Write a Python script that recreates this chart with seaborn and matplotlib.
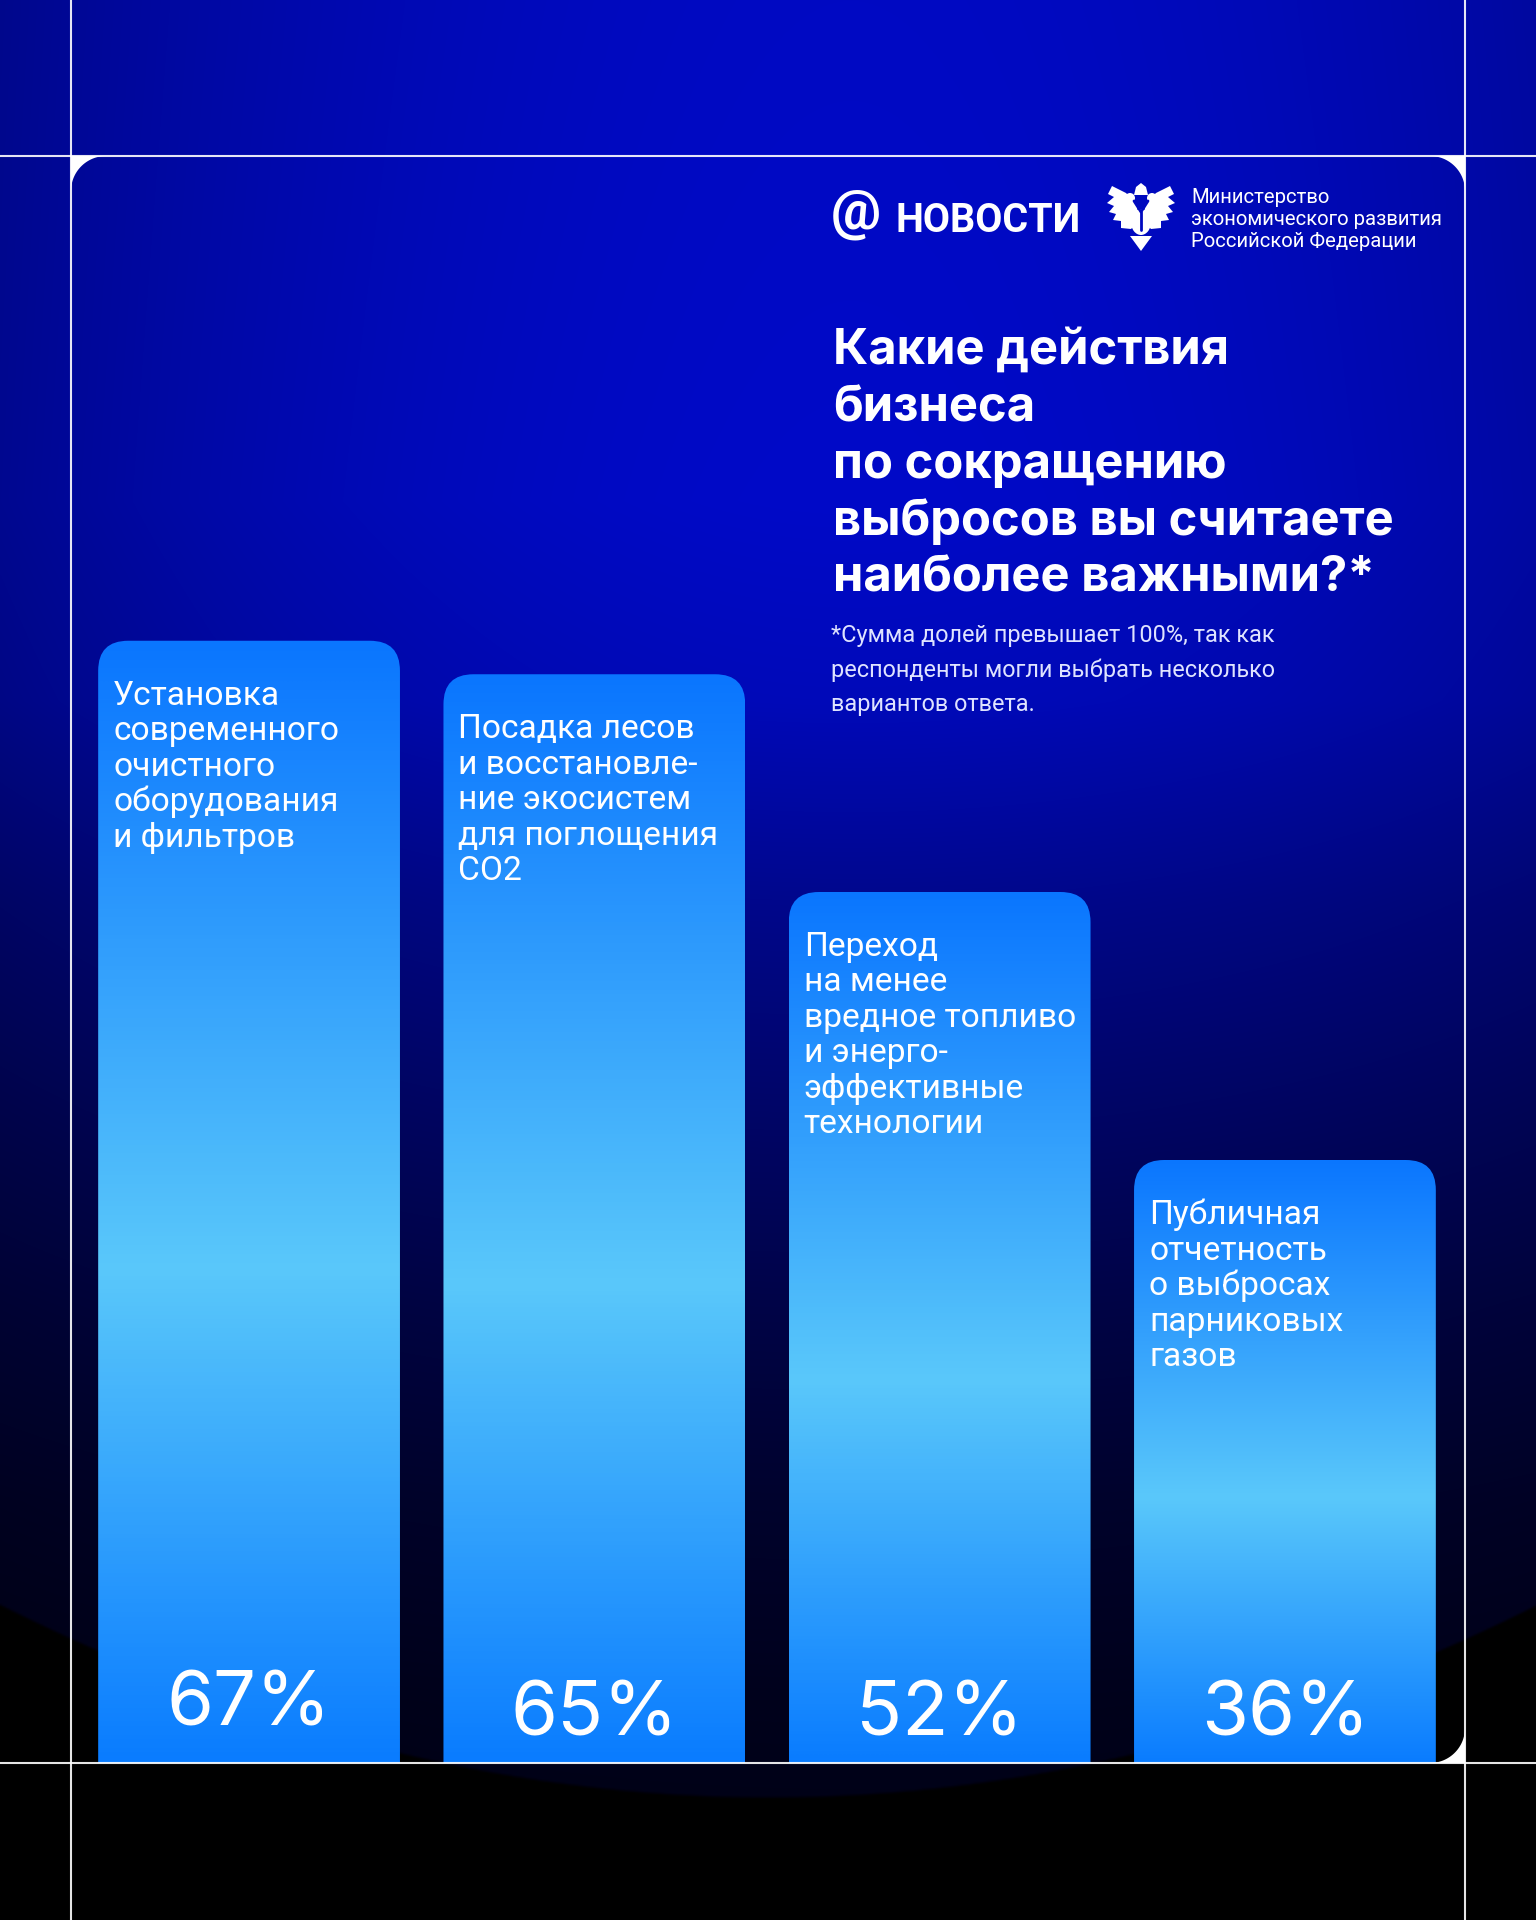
import numpy as np
import pandas as pd
import matplotlib
matplotlib.use("Agg")
import matplotlib.pyplot as plt
import seaborn as sns
from matplotlib.patches import FancyBboxPatch, Polygon, Ellipse, Circle
from matplotlib.colors import LinearSegmentedColormap

# ---- data ----
categories = ["Очистное оборудование", "Посадка лесов", "Менее вредное топливо", "Публичная отчетность"]
bar_texts = [
    "Установка\nсовременного\nочистного\nоборудования\nи фильтров",
    "Посадка лесов\nи восстановле-\nние экосистем\nдля поглощения\nCO2",
    "Переход\nна менее\nвредное топливо\nи энерго-\nэффективные\nтехнологии",
    "Публичная\nотчетность\nо выбросах\nпарниковых\nгазов",
]
shares = [67, 65, 52, 36]
share_labels = ["67%", "65%", "52%", "36%"]

title_lines = ["Какие действия", "бизнеса", "по сокращению", "выбросов вы считаете", "наиболее важными?*"]
note_lines = ["*Сумма долей превышает 100%, так как", "респонденты могли выбрать несколько", "вариантов ответа."]
ministry_lines = ["Министерство", "экономического развития", "Российской Федерации"]
brand = "НОВОСТИ"

W, H = 1536, 1920
PT = 0.72  # px -> pt at dpi 100

sns.set_theme(style="white")
plt.rcParams["font.family"] = ["Roboto", "DejaVu Sans"]

fig = plt.figure(figsize=(W / 100, H / 100), dpi=100)

# ---- background: blue fading down, dark glow over black at the bottom ----
bg = fig.add_axes([0, 0, 1, 1], zorder=0)
yy, xx = np.mgrid[0:H:2, 0:W:2].astype(np.float32)
ys = [0, 500, 700, 900, 1100, 1300, 1500, 1700, 1920]
bs = [195, 200, 185, 140, 105, 72, 45, 28, 18]
blue = np.interp(yy, ys, bs)
blue *= np.clip(1 - 0.28 * ((xx - 850) / 850) ** 2, 0, 1)
edge = 1798 - 3.26e-4 * (xx - 768) ** 2
blue *= np.clip((edge - yy) / 3, 0, 1)
img = np.zeros(blue.shape + (3,), dtype=np.float32)
img[..., 1] = 0.05 * blue / 255
img[..., 2] = blue / 255
bg.imshow(img, extent=[0, W, H, 0], aspect="auto", interpolation="bilinear")
bg.set_xlim(0, W)
bg.set_ylim(H, 0)
bg.axis("off")

# ---- bars ----
ax = fig.add_axes([98 / W, (H - 1763) / H, (1436 - 98) / W, (1763 - 156) / H], zorder=1)
ax.patch.set_alpha(0)
df = pd.DataFrame({"category": categories, "share": shares})
sns.barplot(data=df, x="category", y="share", ax=ax, width=0.874,
            color="#0a78ff", saturation=1, errorbar=None)

px_x = (1436 - 98) / 3.875
px_y = 16.75
ymax = (1763 - 156) / px_y
bar_cmap = LinearSegmentedColormap.from_list(
    "bar", [(0, "#0a76ff"), (0.56, "#5ac8fa"), (1, "#0a7cff")])
grad = np.linspace(0, 1, 256).reshape(-1, 1)
radius = 30

bars = list(ax.patches)
for i, p in enumerate(bars):
    x0, w, h = p.get_x(), p.get_width(), p.get_height()
    p.set_visible(False)
    clip = FancyBboxPatch((x0, -5), w, h + 5,
                          boxstyle=f"round,pad=0,rounding_size={radius / px_x}",
                          mutation_aspect=px_x / px_y,
                          facecolor="none", edgecolor="none")
    ax.add_patch(clip)
    im = ax.imshow(grad, cmap=bar_cmap, extent=[x0, x0 + w, 0, h], aspect="auto",
                   origin="upper", interpolation="bilinear", zorder=2)
    im.set_clip_path(clip)
    # category text inside the bar
    for j, line in enumerate(bar_texts[i].split("\n")):
        ax.annotate(line, xy=(x0, h), xytext=(15 * PT, -(64 + j * 35.5) * PT),
                    textcoords="offset points", ha="left", va="baseline",
                    color="white", fontsize=33.5 * PT, zorder=3)
    # value
    lift = 37 if i == 0 else 27
    ax.annotate(share_labels[i], xy=(x0 + w / 2, 0), xytext=(0, lift * PT),
                textcoords="offset points", ha="center", va="baseline",
                color="white", fontsize=76 * PT, family=["Inter", "DejaVu Sans"], zorder=3)

ax.set_xlim(-0.4375, 3.4375)
ax.set_ylim(0, ymax)
ax.axis("off")

# ---- overlay: frame lines, corners, header ----
ov = fig.add_axes([0, 0, 1, 1], zorder=2)
ov.set_xlim(0, W)
ov.set_ylim(H, 0)
ov.axis("off")
ov.patch.set_alpha(0)

for xv in (71, 1465):
    ov.axvline(xv, color="white", lw=1.5, alpha=0.9)
for yv in (156, 1763):
    ov.axhline(yv, color="white", lw=1.5, alpha=0.9)

r = 35
t = np.linspace(0, np.pi / 2, 30)
for (cx, cy, sx, sy) in [(71, 156, 1, 1), (1465, 156, -1, 1), (1465, 1763, -1, -1)]:
    ccx, ccy = cx + sx * r, cy + sy * r
    arc = np.column_stack([ccx - sx * r * np.sin(t), ccy - sy * r * np.cos(t)])
    ov.add_patch(Polygon(np.vstack([[cx, cy], arc]), closed=True, color="white", lw=0))

# title
for k, line in enumerate(title_lines):
    ov.text(833, 364 + k * 57, line, color="white", fontsize=49 * PT,
            fontweight="bold", family=["Inter", "DejaVu Sans"], va="baseline", ha="left")

# footnote
for k, line in enumerate(note_lines):
    ov.text(831, 642 + k * 34.5, line, color="#dfe3ff", fontsize=23.5 * PT,
            va="baseline", ha="left")

# brand
ov.text(831, 229, "@", color="white", fontsize=56 * PT, fontweight="bold",
        va="baseline", ha="left")
ov.text(895, 232, brand, color="white", fontsize=39.5 * PT, fontweight="bold",
        va="baseline", ha="left")

# simplified emblem
cx = 1141
wing_l = [(1137, 204), (1126, 193), (1112, 186), (1108, 194), (1114, 197),
          (1107, 203), (1114, 206), (1109, 212), (1116, 214), (1113, 220),
          (1121, 221), (1121, 228), (1131, 229), (1138, 222)]
wing_r = [(2 * cx - x, y) for x, y in wing_l]
ov.add_patch(Polygon(wing_l, closed=True, color="white", lw=0))
ov.add_patch(Polygon(wing_r, closed=True, color="white", lw=0))
ov.add_patch(Circle((1130, 198), 5, color="white", lw=0))
ov.add_patch(Circle((1152, 198), 5, color="white", lw=0))
ov.add_patch(Polygon([(1134, 195), (1136, 187), (1141, 183), (1146, 187), (1148, 195)],
                     closed=True, color="white", lw=0))
ov.add_patch(Ellipse((cx, 222), 20, 26, color="white", lw=0))
ov.add_patch(Polygon([(1130, 236), (cx, 251), (1152, 236)], closed=True, color="white", lw=0))
ov.plot([1134, cx, 1148], [201, 212, 201], color="#0008c0", lw=2)
ov.plot([cx, cx], [212, 230], color="#0008c0", lw=2)

# ministry name
for k, line in enumerate(ministry_lines):
    ov.text(1191, 203 + k * 22, line, color="white", fontsize=20.3 * PT,
            va="baseline", ha="left")

fig.savefig("out.png", dpi=100)
